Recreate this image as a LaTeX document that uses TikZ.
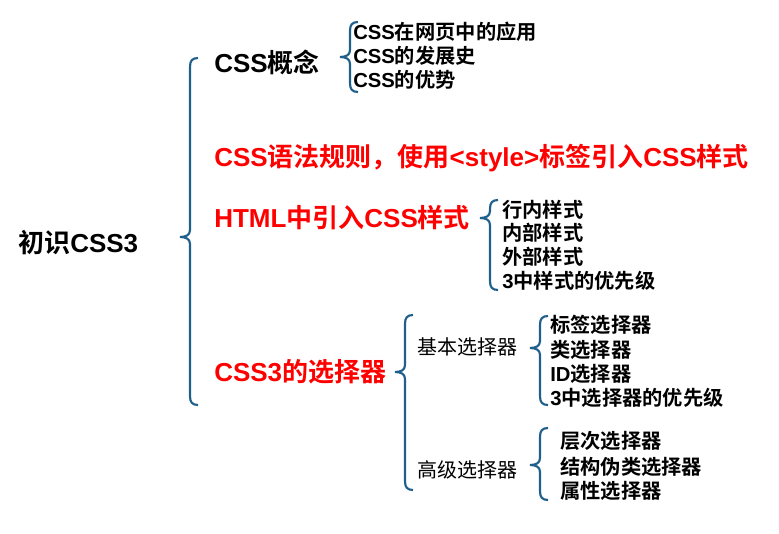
\documentclass[tikz,border=0pt]{standalone}
\usepackage{fontspec}
\setmainfont{Liberation Sans}
\newfontfamily\cjkf{Noto Sans CJK SC}[BoldFont={Noto Sans CJK SC Bold}]
\newcommand\cj[1]{{\cjkf #1}}
\definecolor{brc}{HTML}{1F5F8B}
\definecolor{rd}{HTML}{FF0000}
\newcommand\mybrace[4]{% x, top, bottom, mid
  \draw[brc,line width=1.6pt] ({#1+8},#2) .. controls ({#1+2},#2) and (#1,{#2+3}) .. (#1,{#2+9})
    -- (#1,{#4-7}) .. controls (#1,{#4-2}) and ({#1-4},#4) .. ({#1-10},#4)
    .. controls ({#1-4},#4) and (#1,{#4+2}) .. (#1,{#4+7})
    -- (#1,{#3-9}) .. controls (#1,{#3-3}) and ({#1+2},#3) .. ({#1+8},#3);}
\tikzset{big/.style={anchor=west,inner sep=0,font=\bfseries\fontsize{19.5}{19.5}\selectfont},
 red/.style={big,text=rd},
 sm/.style={anchor=west,inner sep=0,font=\bfseries\fontsize{15.2}{15.2}\selectfont},
 mid/.style={anchor=west,inner sep=0,font=\fontsize{15}{15}\selectfont}}
\begin{document}
\begin{tikzpicture}[x=0.75pt,y=-0.75pt]
\useasboundingbox (0,0) rectangle (779,534);
\node[big] (root) at (18,243) {\cj{初识}CSS3};
\mybrace{190}{58}{405}{237}
\node[big] (a) at (214,62) {CSS\cj{概念}};
\mybrace{350}{22}{92}{57}
\node[sm] (a1) at (353,32) {CSS\cj{在网页中的应用}};
\node[sm] (a2) at (353,56) {CSS\cj{的发展史}};
\node[sm] (a3) at (353,80) {CSS\cj{的优势}};
\node[red] (b) at (214,158) {CSS\cj{语法规则，使用}<style>\cj{标签引入}CSS\cj{样式}};
\node[red] (c) at (214,218) {HTML\cj{中引入}CSS\cj{样式}};
\mybrace{490}{200}{290}{218}
\node[sm] (c1) at (502,210) {\cj{行内样式}};
\node[sm] (c2) at (502,233) {\cj{内部样式}};
\node[sm] (c3) at (502,257) {\cj{外部样式}};
\node[sm] (c4) at (502,281) {3\cj{中样式的优先级}};
\node[red] (d) at (214,372) {CSS3\cj{的选择器}};
\mybrace{405}{315}{490}{372}
\node[mid] (d1) at (417,347) {\cj{基本选择器}};
\node[mid] (d2) at (417,470) {\cj{高级选择器}};
\mybrace{540}{316}{405}{348}
\node[sm] (e1) at (550,325) {\cj{标签选择器}};
\node[sm] (e2) at (550,350) {\cj{类选择器}};
\node[sm] (e3) at (550,374) {ID\cj{选择器}};
\node[sm] (e4) at (550,398) {3\cj{中选择器的优先级}};
\mybrace{540}{428}{500}{465}
\node[sm] (f1) at (560,441) {\cj{层次选择器}};
\node[sm] (f2) at (560,467) {\cj{结构伪类选择器}};
\node[sm] (f3) at (560,491) {\cj{属性选择器}};
\end{tikzpicture}
\end{document}
